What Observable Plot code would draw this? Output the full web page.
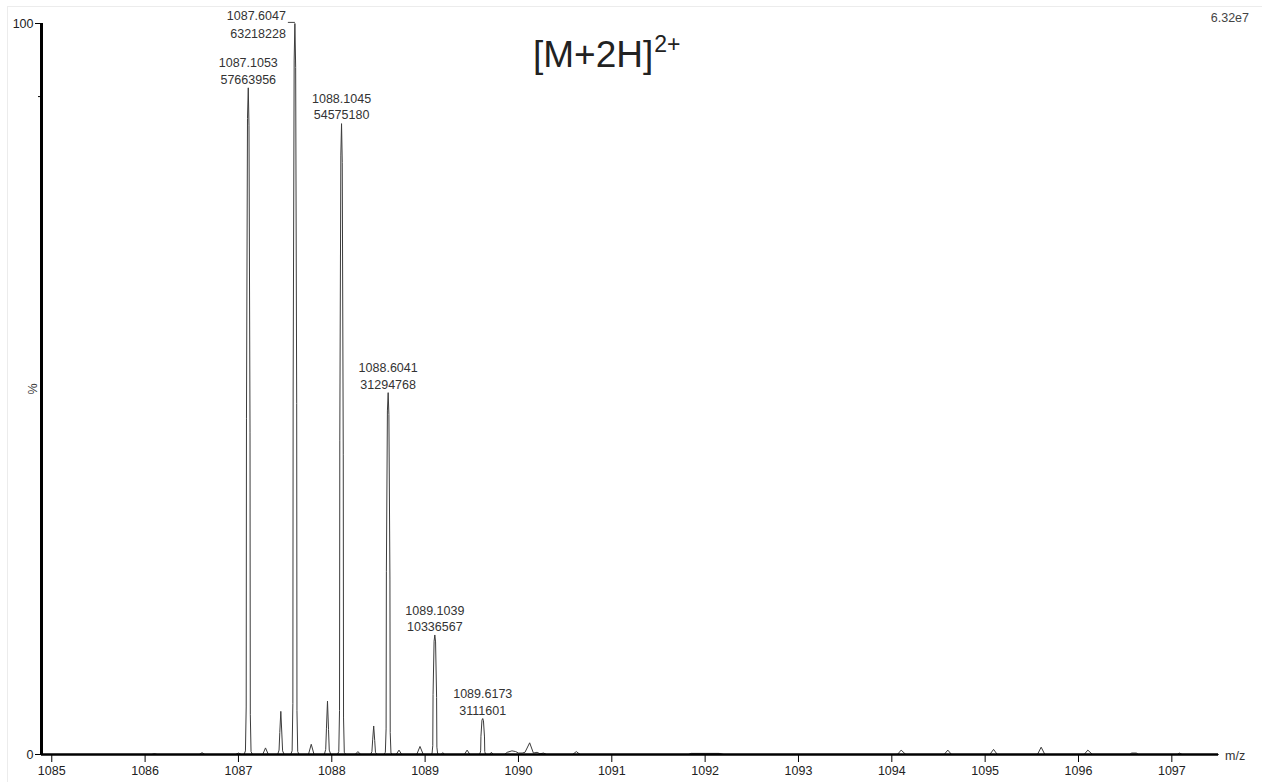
<!DOCTYPE html>
<html>
<head>
<meta charset="utf-8">
<script src="https://cdn.jsdelivr.net/npm/d3@7"></script>
<script src="https://cdn.jsdelivr.net/npm/@observablehq/plot@0.6"></script>
<style>
  body { margin: 0; background: #fff; font-family: "Liberation Sans", Arial, sans-serif; }
  #wrap { position: relative; width: 1262px; height: 782px; overflow: hidden; }
  #frame { position: absolute; left: 7px; top: 6px; right: 0; bottom: 0; border-top: 1px solid #ececec; border-left: 1px solid #ececec; pointer-events: none; }
  .ann { position: absolute; white-space: nowrap; color: #222; }
</style>
</head>
<body>
<div id="wrap">
  <div id="frame"></div>
  <div id="chart"></div>
  <div class="ann" id="title" style="left:533px; top:36px; font-size:37px; line-height:1;">[M+2H]<span style="font-size:23px; position:relative; top:-15px; margin-left:1px;">2+</span></div>
  <div class="ann" id="maxint" style="right:13px; top:12px; font-size:12.5px; line-height:1; color:#444;">6.32e7</div>
  <div class="ann" id="mz" style="left:1225px; top:750px; font-size:12.5px; line-height:1; color:#333;">m/z</div>
</div>
<script>
// ---- data ----
const basePeakIntensity = 63218228;           // 6.32e7 = 100 %
const xDomain = [1084.89, 1097.5];
const xTicks = [1085, 1086, 1087, 1088, 1089, 1090, 1091, 1092, 1093, 1094, 1095, 1096, 1097];

// labelled isotope peaks
const labelMz = [1087.1053, 1087.6047, 1088.1045, 1088.6041, 1089.1039, 1089.6173];
const labelIntensity = [57663956, 63218228, 54575180, 31294768, 10336567, 3111601];

// profile trace: m/z values and relative intensity (%)
const profileMz = [
  1084.90,
  1086.07, 1086.10, 1086.13,
  1086.58, 1086.61, 1086.64,
  1086.97, 1087.00, 1087.03,
  1087.060, 1087.075, 1087.083, 1087.086, 1087.097, 1087.1053, 1087.113, 1087.124, 1087.127, 1087.135, 1087.150,
  1087.26, 1087.29, 1087.32,
  1087.42, 1087.435, 1087.443, 1087.454, 1087.465, 1087.473, 1087.49,
  1087.560, 1087.575, 1087.583, 1087.586, 1087.597, 1087.6047, 1087.613, 1087.624, 1087.627, 1087.635, 1087.650,
  1087.75, 1087.78, 1087.81,
  1087.92, 1087.935, 1087.943, 1087.954, 1087.965, 1087.973, 1087.99,
  1088.060, 1088.075, 1088.083, 1088.086, 1088.097, 1088.1045, 1088.112, 1088.123, 1088.126, 1088.134, 1088.150,
  1088.25, 1088.28, 1088.31,
  1088.415, 1088.43, 1088.438, 1088.449, 1088.46, 1088.468, 1088.485,
  1088.559, 1088.574, 1088.582, 1088.585, 1088.596, 1088.6041, 1088.612, 1088.623, 1088.626, 1088.634, 1088.649,
  1088.69, 1088.72, 1088.75,
  1088.91, 1088.945, 1088.98,
  1089.059, 1089.074, 1089.082, 1089.085, 1089.096, 1089.1039, 1089.112, 1089.123, 1089.126, 1089.134, 1089.149,
  1089.17, 1089.19, 1089.21,
  1089.42, 1089.45, 1089.48,
  1089.572, 1089.587, 1089.595, 1089.598, 1089.609, 1089.6173, 1089.625, 1089.636, 1089.639, 1089.647, 1089.662,
  1089.69, 1089.71, 1089.73,
  1089.85, 1089.88, 1089.93, 1089.97, 1090.00, 1090.04, 1090.07, 1090.12, 1090.16, 1090.20, 1090.23, 1090.27, 1090.30,
  1090.58, 1090.62, 1090.66,
  1091.82, 1091.85, 1092.00, 1092.15, 1092.20,
  1094.06, 1094.10, 1094.15,
  1094.56, 1094.60, 1094.64,
  1095.05, 1095.09, 1095.13,
  1095.56, 1095.60, 1095.64,
  1096.06, 1096.10, 1096.15,
  1096.55, 1096.57, 1096.62, 1096.64,
  1097.06, 1097.08, 1097.11,
  1097.50
];
const profilePct = [
  0,
  0, 0.1, 0,
  0, 0.25, 0,
  0, 0.2, 0,
  0, 0.5, 6.5, 46, 87, 91.2, 86, 44, 5.5, 0.4, 0,
  0, 0.9, 0,
  0, 0.6, 3, 5.9, 2.8, 0.5, 0,
  0, 0.5, 7, 50, 95, 100, 94, 48, 6, 0.4, 0,
  0, 1.4, 0,
  0, 0.7, 3.6, 7.3, 3.4, 0.6, 0,
  0, 0.4, 6, 43, 82, 86.3, 81, 41, 5, 0.3, 0,
  0, 0.4, 0,
  0, 0.4, 2, 3.9, 1.9, 0.3, 0,
  0, 0.3, 3.5, 25, 47, 49.5, 46.5, 24, 3, 0.2, 0,
  0, 0.6, 0,
  0, 1.1, 0,
  0, 0.1, 1.2, 8.2, 15.5, 16.35, 15.4, 7.8, 1, 0.1, 0,
  0, 0.25, 0,
  0, 0.6, 0,
  0, 0.1, 0.5, 2.5, 4.7, 4.92, 4.6, 2.4, 0.4, 0.05, 0,
  0, 0.3, 0,
  0, 0.3, 0.5, 0.4, 0.2, 0.2, 0.3, 1.6, 0.2, 0.3, 0.1, 0.2, 0,
  0, 0.4, 0,
  0, 0.15, 0.15, 0.15, 0,
  0, 0.6, 0,
  0, 0.6, 0,
  0, 0.7, 0,
  0, 1.0, 0,
  0, 0.6, 0,
  0, 0.2, 0.2, 0,
  0, 0.2, 0,
  0
];

// ---- build tables ----
const profile = profileMz.map((mz, i) => ({mz, pct: profilePct[i]}));
const labels = labelMz.map((mz, i) => ({
  mz, intensity: labelIntensity[i],
  pct: labelIntensity[i] / basePeakIntensity * 100,
  base: labelIntensity[i] === basePeakIntensity
}));
const fmt = d => `${d.mz.toFixed(4)}\n${d.intensity}`;

const chart = Plot.plot({
  width: 1262,
  height: 782,
  marginLeft: 41,
  marginRight: 44,
  marginTop: 23,
  marginBottom: 28,
  style: {fontFamily: "'Liberation Sans', Arial, sans-serif", background: "transparent", overflow: "visible"},
  x: {domain: xDomain},
  y: {domain: [0, 100]},
  marks: [
    Plot.line(profile, {x: "mz", y: "pct", stroke: "#3c3c3c", strokeWidth: 1, curve: "linear"}),
    // axes lines
    Plot.ruleY([0], {stroke: "#000", strokeWidth: 2.5}),
    Plot.ruleX([xDomain[0]], {y1: 0, y2: 100, stroke: "#000", strokeWidth: 3}),
    Plot.axisX({ticks: xTicks, tickSize: 8, tickPadding: 4, fontSize: 12.5, tickFormat: d => String(d), stroke: "#000", color: "#222", label: null}),
    Plot.axisY({ticks: [0, 100], tickSize: 6, tickPadding: 2, fontSize: 12.5, tickFormat: d => String(d), stroke: "#000", color: "#222", label: null}),
    Plot.axisY({ticks: [50], tickSize: 5, tickPadding: 4, fontSize: 12.5, tickFormat: () => "%", rotate: -90, textAnchor: "middle", stroke: "#000", color: "#333", label: null}),
    Plot.axisY({ticks: [90], tickSize: 3, tickFormat: () => "", stroke: "#000", label: null}),
    // peak annotations
    Plot.text(labels.filter(d => !d.base), {x: "mz", y: "pct", text: fmt, lineAnchor: "bottom", dy: -4, fontSize: 12.5, lineHeight: 1.3, fill: "#333"}),
    Plot.text(labels.filter(d => d.base), {x: "mz", y: "pct", text: fmt, lineAnchor: "middle", textAnchor: "end", dx: -9, fontSize: 12.5, lineHeight: 1.4, fill: "#333"}),
    Plot.link(labels.filter(d => d.base), {x1: d => d.mz - 0.075, x2: "mz", y1: d => d.pct + 0.15, y2: d => d.pct + 0.15, stroke: "#444", strokeWidth: 1})
  ]
});
document.getElementById("chart").appendChild(chart);
</script>
</body>
</html>
